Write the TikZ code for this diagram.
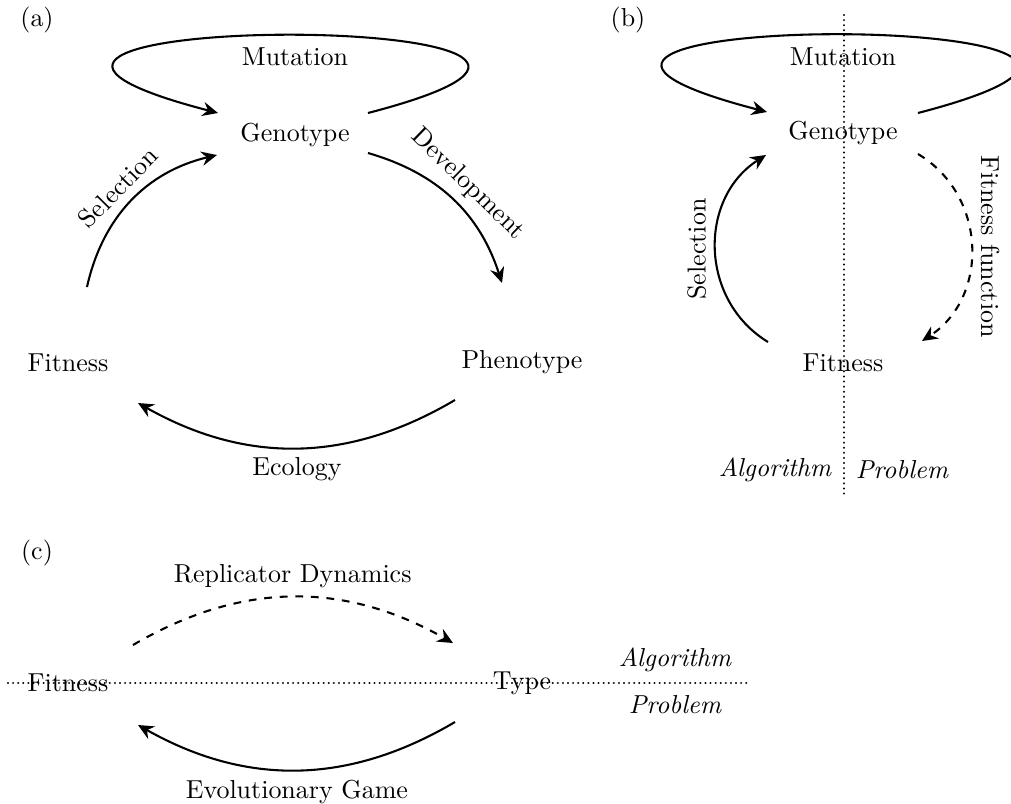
\documentclass[tikz,border=0pt]{standalone}
\usetikzlibrary{arrows.meta,calc}
\begin{document}
\begin{tikzpicture}[x=0.385pt,y=0.385pt,
  conn/.style={thick,-{Stealth[length=6pt,width=5.5pt,inset=2pt]}},
  dconn/.style={conn,dashed},
  sep/.style={line width=0.9pt,dash pattern=on 0.01pt off 1.95pt,line cap=round},
  side/.style={font=\itshape}]
\useasboundingbox (0,0) rectangle (1011,803);
% ---------- (a) ----------
\node (tagA) at (37,783) {(a)};
\node (mutA) at (295,746) {Mutation};
\node (genA) at (295,668) {Genotype};
\node (fitA) at (68,440) {Fitness};
\node (phenA) at (522,441) {Phenotype};
\draw[conn] ($(genA)+(73,22)$) .. controls +(400,104) and +(-400,104) .. ($(genA)+(-77,22)$);
\draw[conn] ($(fitA)+(19,76)$) to[bend left=32]
  node[sloped,above]{Selection} ($(genA)+(-78,-20)$);
\draw[conn] ($(genA)+(73,-18)$) to[bend left=28]
  node[sloped,above]{Development} ($(phenA)+(-20,79)$);
\draw[conn] ($(phenA)+(-67,-38)$) to[bend left=30]
  node[below]{Ecology} ($(fitA)+(70,-40)$);
% ---------- (b) ----------
\node (tagB) at (628,783) {(b)};
\coordinate (sepBtop) at (844,788);
\coordinate (sepBbot) at (844,306);
\draw[sep] (sepBtop) -- (sepBbot);
\node (mutB) at (843,746) {Mutation};
\node (genB) at (843,670) {Genotype};
\node (fitB) at (843,440) {Fitness};
\draw[conn] ($(genB)+(75,20)$) .. controls +(400,104) and +(-400,104) .. ($(genB)+(-76,21)$);
\draw[conn] ($(fitB)+(-75,21)$) to[bend left=58,looseness=1.1]
  node[midway,rotate=90,anchor=south]{Selection} ($(genB)+(-77,-22)$);
\draw[dconn] ($(genB)+(75,-21)$) to[bend left=58,looseness=1.1]
  node[midway,rotate=-90,anchor=south]{Fitness function} ($(fitB)+(79,22)$);
\node[side] (algB) at (775,333) {Algorithm};
\node[side] (probB) at (902,333) {Problem};
% ---------- (c) ----------
\node (tagC) at (37,250) {(c)};
\coordinate (sepCl) at (8,120);
\coordinate (sepCr) at (750,120);
\draw[sep] (sepCl) -- (sepCr);
\node (fitC) at (68,120) {Fitness};
\node (typeC) at (522,120) {Type};
\draw[dconn] ($(fitC)+(65,38)$) to[bend left=30]
  node[above]{Replicator Dynamics} ($(typeC)+(-69,40)$);
\draw[conn] ($(typeC)+(-67,-39)$) to[bend left=30]
  node[below]{Evolutionary Game} ($(fitC)+(70,-42)$);
\node[side] (algC) at (675,143) {Algorithm};
\node[side] (probC) at (675,98) {Problem};
\end{tikzpicture}
\end{document}
